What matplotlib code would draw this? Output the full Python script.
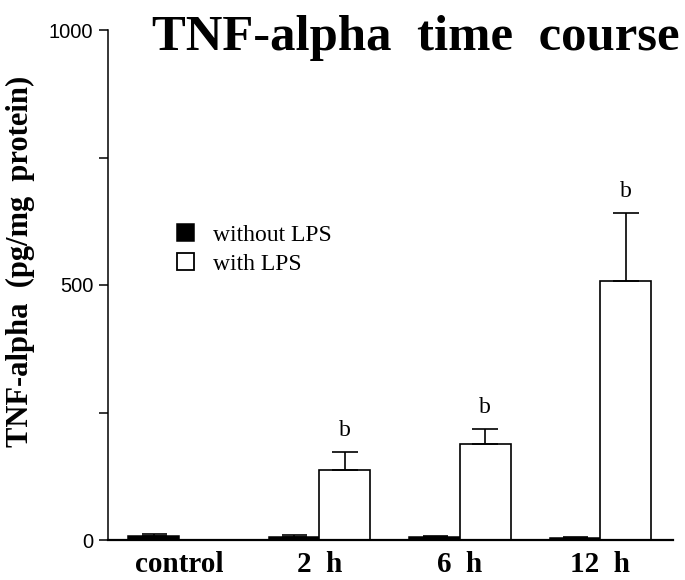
"""TNF-alpha time course: bars with and without LPS."""

import matplotlib
matplotlib.use("Agg")
import matplotlib.pyplot as plt
from matplotlib.patches import Patch
import numpy as np

# Data (pg/mg protein)
GROUPS = ["control", "2  h", "6  h", "12  h"]
WITHOUT_LPS = [7, 6, 5, 4]
WITHOUT_LPS_ERR = [4, 3, 2, 2]
WITH_LPS = [0, 137, 188, 508]
WITH_LPS_ERR = [0, 36, 30, 133]
SIGNIF = ["", "b", "b", "b"]

SERIF = ["Liberation Serif", "DejaVu Serif"]
SANS = ["Liberation Sans", "DejaVu Sans"]

W, H, DPI = 6.85, 5.80, 100


def draw(ax):
    x = np.arange(len(GROUPS))
    bw = 0.36
    err_kw = dict(elinewidth=1.2, capthick=1.2, ecolor="black")

    ax.bar(x - bw / 2, WITHOUT_LPS, width=bw, color="black", edgecolor="black",
           linewidth=1.1)
    ax.errorbar(x - bw / 2, WITHOUT_LPS, yerr=[np.zeros(4), WITHOUT_LPS_ERR],
                fmt="none", capsize=9, **err_kw)
    ax.bar(x + bw / 2, WITH_LPS, width=bw, color="white", edgecolor="black",
           linewidth=1.2)
    ax.errorbar(x + bw / 2, WITH_LPS, yerr=[np.zeros(4), WITH_LPS_ERR],
                fmt="none", capsize=9.5, **err_kw)

    # significance letters above the error caps
    for xi, v, e, s in zip(x, WITH_LPS, WITH_LPS_ERR, SIGNIF):
        if s:
            ax.text(xi + bw / 2, v + e + 42, s, ha="center", va="center",
                    fontsize=17, family=SERIF)

    ax.set_xlim(-0.505, 3.516)
    ax.set_ylim(0, 1000)
    ax.set_xticks(x)
    ax.set_xticklabels(GROUPS, fontsize=21, fontweight="bold", family=SERIF)
    ax.tick_params(axis="x", length=0, pad=8)
    ax.set_yticks([0, 500, 1000])
    ax.set_yticks([250, 750], minor=True)
    ax.tick_params(axis="y", which="both", direction="out", length=6.5,
                   width=1.1, pad=4, labelsize=14.5)
    for lab in ax.get_yticklabels():
        lab.set_family(SANS)

    for side in ("top", "right"):
        ax.spines[side].set_visible(False)
    ax.spines["left"].set_linewidth(1.1)
    ax.spines["bottom"].set_linewidth(1.6)

    handles = [Patch(facecolor="black", edgecolor="black", linewidth=1.1),
               Patch(facecolor="white", edgecolor="black", linewidth=1.3)]
    ax.legend(handles, ["without LPS", "with LPS"], frameon=False,
              loc="upper left", bbox_to_anchor=(177 / 685, 1 - 224 / 580),
              bbox_transform=ax.figure.transFigure, borderpad=0,
              borderaxespad=0, handlelength=0.72, handleheight=0.72,
              handletextpad=0.8, labelspacing=0.32,
              prop=dict(family=SERIF, size=17))


def main():
    fig = plt.figure(figsize=(W, H), dpi=DPI)
    ax = fig.add_axes([108 / 685, 1 - 540 / 580, 565 / 685, 510 / 580])
    draw(ax)
    fig.text(416 / 685, 1 - 50 / 580, "TNF-alpha  time  course",
             ha="center", va="baseline", fontsize=36.5, fontweight="bold",
             family=SERIF)
    fig.text(20 / 685, 1 - 261 / 580, "TNF-alpha  (pg/mg  protein)",
             rotation=90, ha="center", va="center", fontsize=22,
             fontweight="bold", family=SERIF)
    fig.savefig("out.png", dpi=DPI)
    plt.close(fig)


if __name__ == "__main__":
    main()
